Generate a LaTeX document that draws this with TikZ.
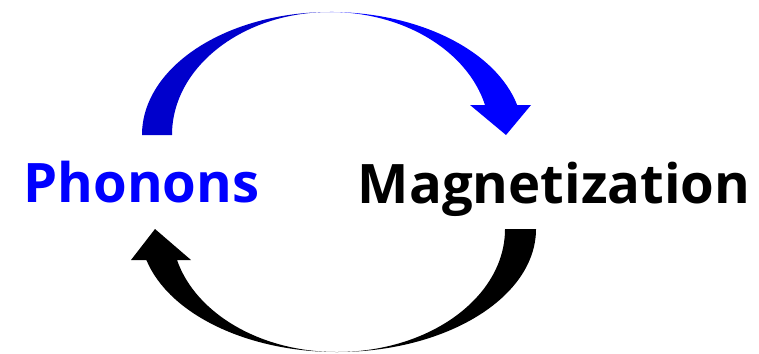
\documentclass[tikz,border=0pt]{standalone}
\usepackage{fontspec}
\setmainfont{Open Sans}
\usepackage{tikz}
\definecolor{darkblue}{RGB}{0,0,204}
\tikzset{
  word/.style={font=\fontsize{31}{36}\selectfont\bfseries, inner sep=0pt, anchor=base},
  bandfront/.style={fill=blue, draw=none},
  bandback/.style={fill=darkblue, draw=none},
  bandblack/.style={fill=black, draw=none}
}

\begin{document}
\begin{tikzpicture}[x=0.02cm, y=0.02cm]
  \useasboundingbox (0,0) rectangle (759,353);
  \node[word, text=blue] (phonons) at (141.5,151) {Phonons};
  \node[word, text=black] (magnet) at (554,150) {Magnetization};
  % upper arrow, phonons to magnetization
  \fill[bandback] (142,218) arc[start angle=180, end angle=90, x radius=188, y radius=123]
    arc[start angle=90, end angle=180, x radius=158, y radius=123] -- cycle;
  \fill[bandfront] (330,341) arc[start angle=90, end angle=14.1, x radius=193, y radius=123]
    -- (531,248) -- (506,218) -- (470,248) -- (485,248)
    arc[start angle=14.1, end angle=90, x radius=160, y radius=123] -- cycle;
  % lower arrow, magnetization back to phonons
  \fill[bandblack] (536,124) arc[start angle=0, end angle=-90, x radius=199, y radius=123]
    arc[start angle=-90, end angle=0, x radius=168, y radius=123] -- cycle;
  \fill[bandblack] (337,1) arc[start angle=-90, end angle=-165.4, x radius=197, y radius=123]
    -- (131,93) -- (155,124) -- (191,93) -- (177,93)
    arc[start angle=-165.4, end angle=-90, x radius=165, y radius=123] -- cycle;
\end{tikzpicture}
\end{document}
